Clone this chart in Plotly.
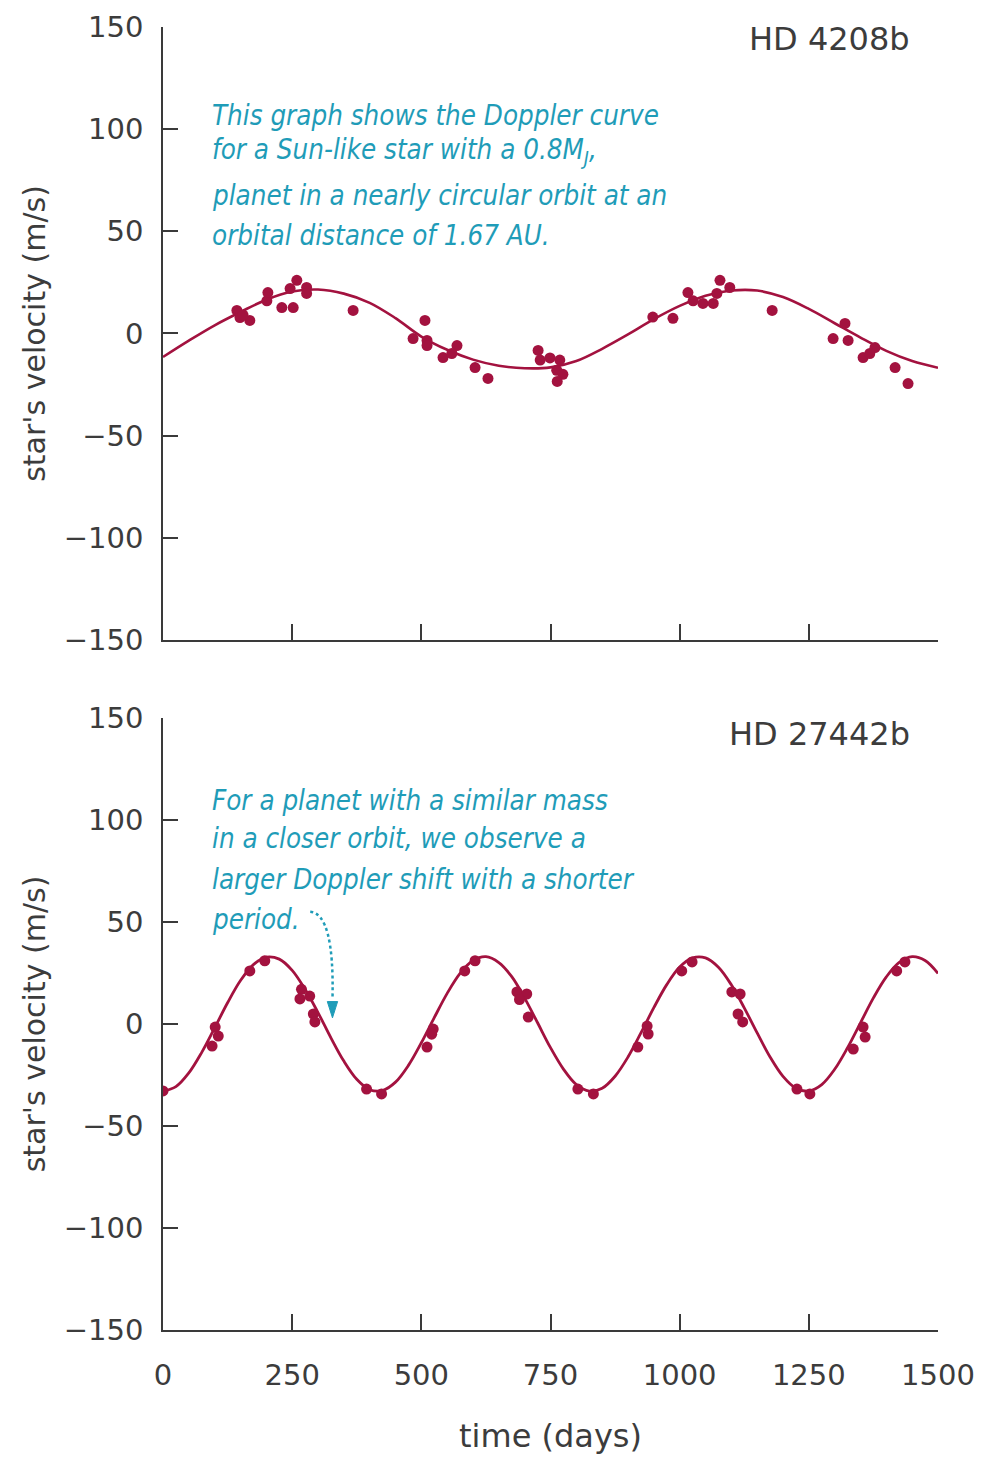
import plotly.graph_objects as go

# ---------------- data ----------------
# Top panel: HD 4208b
top_curve_t = [0, 50, 100, 150, 200, 250, 300, 350, 400, 450, 500, 550, 600, 650, 700, 750,
               800, 850, 900, 950, 1000, 1050, 1100, 1150, 1200, 1250, 1300, 1350, 1400, 1450, 1500]
top_curve_v = [-11.5, -3.5, 4.0, 10.5, 16.5, 20.5, 21.5, 19.5, 15.0, 7.5, -1.5, -8.0, -12.8, -15.8, -17.0, -16.6,
               -13.5, -7.5, -0.5, 7.0, 13.5, 18.5, 21.0, 21.0, 17.8, 12.0, 5.0, -2.0, -8.5, -13.5, -16.8]
top_obs_t = [143, 149, 168, 155, 201, 203, 230, 252, 259, 278, 246, 278, 368,
             507, 484, 511, 511, 542, 569, 559, 604, 629,
             726, 730, 749, 768, 762, 774, 763,
             948, 987, 1016, 1026, 1045, 1065, 1072, 1078, 1097, 1179,
             1320, 1297, 1326, 1355, 1378, 1368, 1417, 1442]
top_obs_v = [11.3, 7.8, 6.4, 9.0, 16.0, 20.0, 12.7, 12.7, 26.0, 22.5, 22.0, 19.6, 11.3,
             6.4, -2.5, -3.4, -5.9, -11.8, -5.9, -9.8, -16.7, -22.0,
             -8.3, -13.0, -12.0, -13.0, -18.0, -20.0, -23.5,
             8.0, 7.4, 20.0, 16.0, 14.7, 14.7, 19.6, 26.0, 22.5, 11.3,
             4.9, -2.5, -3.4, -11.8, -6.9, -9.8, -16.7, -24.5]

# Bottom panel: HD 27442b
bot_curve_t = list(range(0, 1501, 25))
bot_curve_v = [-33.0, -30.7, -24.0, -13.9, -1.9, 10.4, 21.3, 29.1, 32.8, 31.8, 26.3, 17.0, 5.6,
               -6.8, -18.2, -27.1, -32.2, -32.6, -28.5, -20.3, -9.2, 3.1, 15.0, 24.8, 31.1, 33.0,
               30.1, 23.2, 12.7, 0.6, -11.6, -22.1, -29.7, -32.9, -31.5, -25.6, -16.2, -4.4, 8.0,
               19.3, 27.9, 32.4, 32.4, 27.8, 19.2, 7.9, -4.4, -16.2, -25.7, -31.5, -32.9, -29.7,
               -22.2, -11.6, 0.6, 12.8, 23.1, 30.2, 33.0, 31.1, 24.8]
bot_obs_t = [0, 101, 107, 95, 168, 197, 268, 265, 284, 291, 294, 394, 423,
             511, 523, 520, 584, 604, 685, 704, 707, 690,
             803, 833, 919, 937, 939, 1004, 1024, 1101, 1117, 1113, 1122,
             1227, 1252, 1336, 1355, 1359, 1420, 1436]
bot_obs_v = [-32.8, -1.5, -5.9, -10.8, 26.0, 31.0, 17.0, 12.3, 13.7, 4.9, 1.0, -31.9, -34.3,
             -11.3, -2.5, -5.0, 26.0, 31.0, 15.7, 14.7, 3.4, 12.0,
             -31.9, -34.3, -11.3, -1.0, -4.9, 26.0, 30.4, 15.7, 14.7, 4.9, 1.0,
             -31.9, -34.3, -12.3, -1.5, -6.4, 26.0, 30.4]

x_ticks = [0, 250, 500, 750, 1000, 1250, 1500]
y_ticks = [-150, -100, -50, 0, 50, 100, 150]
y_tick_text = ["\u2212150", "\u2212100", "\u221250", "0", "50", "100", "150"]

top_note_lines = ["This graph shows the Doppler curve",
                  "for a Sun-like star with a 0.8M<sub>J</sub>,",
                  "planet in a nearly circular orbit at an",
                  "orbital distance of 1.67 AU."]
bot_note_lines = ["For a planet with a similar mass",
                  "in a closer orbit, we observe a",
                  "larger Doppler shift with a shorter",
                  "period."]

# ---------------- styling ----------------
RED = "#a3123f"
TEAL = "#1f9cb8"
AX = "#3a3a3a"
TXT = "#3c3c3c"
FONT = "DejaVu Sans, Liberation Sans, Arial, sans-serif"
NOTE_FONT = "DejaVu Sans Condensed, Liberation Sans Narrow, Arial Narrow, sans-serif"

fig = go.Figure()

fig.add_trace(go.Scatter(x=top_curve_t, y=top_curve_v, mode="lines",
                         line=dict(color=RED, width=2.6, shape="spline"),
                         xaxis="x", yaxis="y", hoverinfo="skip"))
fig.add_trace(go.Scatter(x=top_obs_t, y=top_obs_v, mode="markers", marker=dict(color=RED, size=11),
                         xaxis="x", yaxis="y"))
fig.add_trace(go.Scatter(x=bot_curve_t, y=bot_curve_v, mode="lines",
                         line=dict(color=RED, width=2.8, shape="spline"),
                         xaxis="x2", yaxis="y2", hoverinfo="skip"))
fig.add_trace(go.Scatter(x=bot_obs_t, y=bot_obs_v, mode="markers", marker=dict(color=RED, size=11),
                         xaxis="x2", yaxis="y2"))

xcommon = dict(range=[0, 1500], tickvals=x_ticks, ticks="inside", ticklen=16, tickwidth=1.5, tickcolor=AX,
               showline=True, linecolor=AX, linewidth=1.5, showgrid=False, zeroline=False, automargin=False,
               tickfont=dict(family=FONT, size=29, color=TXT))
ycommon = dict(range=[-150, 150], tickvals=y_ticks, ticktext=y_tick_text, ticks="inside", ticklen=15,
               tickwidth=1.5, tickcolor=AX, showline=True, linecolor=AX, linewidth=1.5, showgrid=False,
               zeroline=False, automargin=False, tickfont=dict(family=FONT, size=29, color=TXT),
               ticklabelstandoff=12,
               title=dict(text="star's velocity (m/s)", font=dict(family=FONT, size=30, color=TXT), standoff=9))

fig.update_layout(
    width=982, height=1458,
    margin=dict(l=155, r=52, t=19, b=136),
    paper_bgcolor="white", plot_bgcolor="white",
    showlegend=False,
    xaxis=dict(**xcommon, anchor="y", showticklabels=False),
    yaxis=dict(**ycommon, domain=[0.5296, 1.0], anchor="x"),
    xaxis2=dict(**xcommon, anchor="y2", ticklabelstandoff=18,
                title=dict(text="time (days)", font=dict(family=FONT, size=32, color=TXT), standoff=34)),
    yaxis2=dict(**ycommon, domain=[0.0, 0.4697], anchor="x2"),
)

# panel labels
fig.add_annotation(text="HD 4208b", xref="x", yref="y", x=1450, y=144, xanchor="right", yanchor="middle",
                   showarrow=False, font=dict(family=FONT, size=32, color=TXT))
fig.add_annotation(text="HD 27442b", xref="x2", yref="y2", x=1450, y=142, xanchor="right", yanchor="middle",
                   showarrow=False, font=dict(family=FONT, size=32, color=TXT))

# explanatory notes (one annotation per line)
top_note_y = [107, 89, 68, 48]
for line, yy in zip(top_note_lines, top_note_y):
    fig.add_annotation(text="<i>" + line + "</i>", xref="x", yref="y", x=90, y=yy,
                       xanchor="left", yanchor="middle", align="left", showarrow=False,
                       font=dict(family=NOTE_FONT, size=27.5, color=TEAL))
bot_note_y = [110, 91, 71, 51.5]
for line, yy in zip(bot_note_lines, bot_note_y):
    fig.add_annotation(text="<i>" + line + "</i>", xref="x2", yref="y2", x=90, y=yy,
                       xanchor="left", yanchor="middle", align="left", showarrow=False,
                       font=dict(family=NOTE_FONT, size=27.5, color=TEAL))

# dotted curved arrow with a small filled head
fig.add_shape(type="path", xref="x2", yref="y2", path="M 285,55 Q 332,54 328,12",
              line=dict(color=TEAL, width=2.5, dash="dot"))
fig.add_shape(type="path", xref="x2", yref="y2", path="M 318,11 L 338,11 L 328,3 Z",
              fillcolor=TEAL, line=dict(color=TEAL, width=1))

fig.write_html("out.html")
